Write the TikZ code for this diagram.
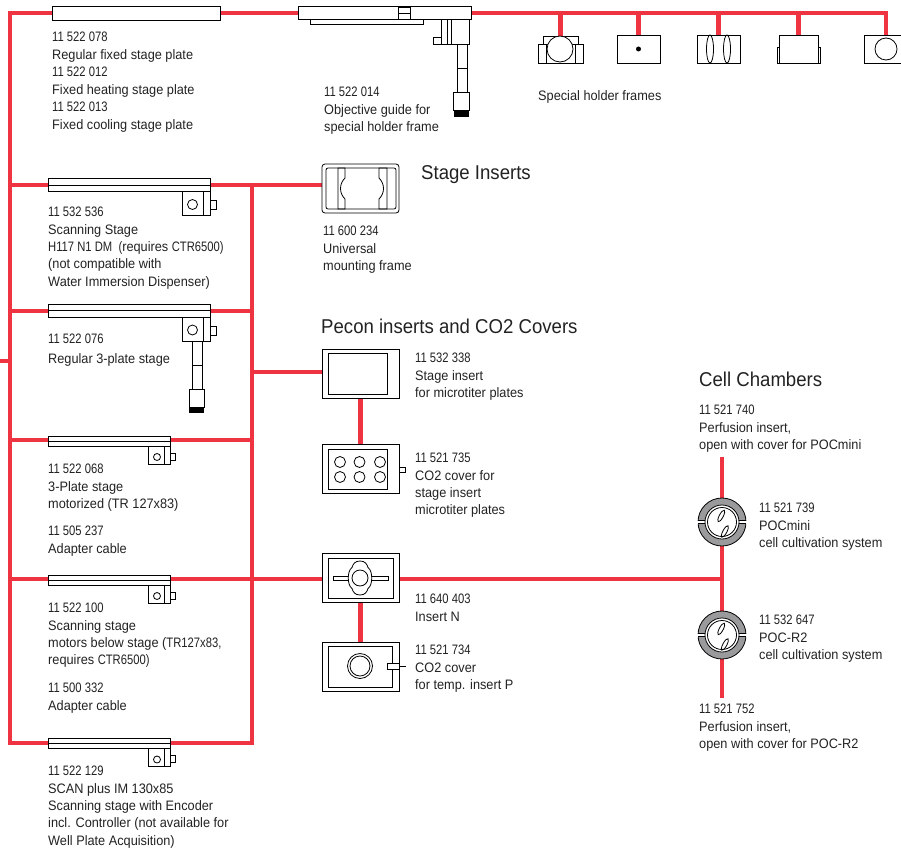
\documentclass[tikz,border=0pt]{standalone}
\usepackage{fontspec}
\setmainfont[FakeStretch=0.93]{Liberation Sans}
\newfontface\partfont[FakeStretch=0.82]{Liberation Sans}
\newcommand{\partno}[1]{{\partfont #1}}
\usetikzlibrary{backgrounds}
\definecolor{linkred}{HTML}{EE3440}
\definecolor{dishgray}{HTML}{9A9A9C}
\definecolor{inktext}{HTML}{222222}

\begin{document}
\begin{tikzpicture}[
        x=1pt, y=-1pt,
        link/.style={draw=linkred, line width=4.3pt},
        part/.style={draw=black, rectangle, fill=white, line width=.8pt, inner sep=0pt, outer sep=0pt},
        longbar/.style={part, minimum width=162pt, minimum height=13pt},
        shortbar/.style={part, minimum width=122pt, minimum height=10pt},
        frame/.style={part, minimum width=77pt, minimum height=49pt},
        holder/.style={part, minimum height=28pt},
        dish/.style={draw=black, circle, fill=dishgray, line width=.8pt, inner sep=0pt, outer sep=0pt, minimum size=48pt},
        thin/.style={draw=black, line width=.8pt},
        lbl/.style={anchor=north west, align=left, inner sep=0pt, yshift=-1pt, text=inktext, font=\fontsize{13.7}{17.4}\selectfont},
        head/.style={anchor=west, inner sep=0pt, text=inktext, font=\fontsize{20}{22}\selectfont}
    ]
    \useasboundingbox (0,0) rectangle (901,851);

    % --- Top row: fixed plate and objective guide ---
    \node[part, minimum width=168pt, minimum height=14pt] (fixedplate) at (136,13) {};
    \node[part, minimum width=173pt, minimum height=13pt] (guidebar) at (384.5,12.5) {};
    \draw[thin] (310,19) -- (310,24) -- (423,24) -- (423,19);
    \draw[thin] (398,7) rectangle (410,19) (398,13) -- (410,13);
    \draw[thin] (441,19) rectangle (469,44) (447,19) -- (447,44) (451,19) -- (451,44);
    \draw[thin] (433,37) rectangle (441,44);
    \draw[thin] (457,44) rectangle (467,92) (457,68) -- (467,68);
    \draw[thin] (453.5,92) rectangle (469,110);
    \fill[black] (453.5,110) rectangle (469,117);

    % --- Top row: special holder frames ---
    \node[part, minimum width=35pt, minimum height=8pt] (holderone) at (560.5,40) {};
    \node[part, minimum width=45pt, minimum height=19pt] (holdersides) at (560.5,53.5) {};
    \draw[thin] (546,44) -- (546,63) (575,44) -- (575,63);
    \node[part, circle, minimum size=26pt] (holderonelens) at (560,49) {};
    \node[holder, minimum width=43pt] (holdertwo) at (638.5,49) {};
    \fill[black] (holdertwo.center) circle[radius=2.5pt];
    \node[holder, minimum width=43pt] (holderthree) at (718.5,49) {};
    \draw[thin] (710,49) ellipse[x radius=3.5pt, y radius=14pt];
    \draw[thin] (727,49) ellipse[x radius=3.5pt, y radius=14pt];
    \node[part, minimum width=43pt, minimum height=16pt] (holderfourback) at (798.5,55) {};
    \node[holder, minimum width=39pt] (holderfour) at (798.5,49) {};
    \node[holder, minimum width=44pt] (holderfive) at (886,49) {};
    \draw[thin] (holderfive.center) circle[radius=11pt];

    % --- Stages ---
    \node[longbar] (scanstage) at (129,185) {};
    \node[longbar] (platestage) at (129,310.5) {};
    \node[shortbar] (motorstage) at (109,441) {};
    \node[shortbar] (belowstage) at (109,580) {};
    \node[shortbar] (encoderstage) at (109,743.5) {};
    \foreach \barname in {scanstage, platestage, motorstage, belowstage, encoderstage}
        \draw[thin] (\barname.west) -- (\barname.east);
    % motor blocks on the long stages
    \foreach \barname in {scanstage, platestage} {
        \draw[thin] ([xshift=-28pt]\barname.south east) rectangle ([xshift=-7pt, yshift=-24pt]\barname.south east);
        \draw[thin] ([xshift=-7pt, yshift=-24pt]\barname.south east) rectangle (\barname.south east);
        \draw[thin] ([xshift=-17.5pt, yshift=-13pt]\barname.south east) circle[radius=5pt];
        \draw[thin] ([yshift=-9pt]\barname.south east) rectangle ([xshift=6pt, yshift=-18pt]\barname.south east);
    }
    % motor blocks on the short stages
    \foreach \barname in {motorstage, belowstage, encoderstage} {
        \draw[thin] ([xshift=-22pt]\barname.south east) rectangle ([xshift=-6pt, yshift=-18pt]\barname.south east);
        \draw[thin] ([xshift=-6pt, yshift=-18pt]\barname.south east) rectangle (\barname.south east);
        \draw[thin] ([xshift=-13pt, yshift=-11pt]\barname.south east) circle[radius=3.5pt];
        \draw[thin] ([yshift=-7pt]\barname.south east) rectangle ([xshift=5pt, yshift=-14pt]\barname.south east);
    }
    % arm below the 3-plate stage
    \draw[thin] (192,341) rectangle (202,389) (192,365) -- (202,365);
    \draw[thin] (189,389) rectangle (204,407);
    \fill[black] (189,407) rectangle (204,413);

    % --- Stage inserts ---
    \node[part, rounded corners=3pt, minimum width=77pt, minimum height=49pt] (mountframe) at (360.5,188.5) {};
    \draw[thin, rounded corners=2pt] (326,168) rectangle (396,209);
    \draw[thin] (338,168) -- (345,168) -- (345,178) .. controls (339,184) and (339,193) .. (345,199) -- (345,209) -- (338,209) -- cycle;
    \draw[thin] (387,168) -- (379,168) -- (379,178) .. controls (385,184) and (385,193) .. (379,199) -- (379,209) -- (387,209) -- cycle;

    % --- Pecon inserts ---
    \node[frame] (plateinsert) at (360.5,373.5) {};
    \node[part, minimum width=59pt, minimum height=41pt] (plateinner) at (357.5,373.5) {};
    \node[frame] (plateco) at (360.5,469) {};
    \node[part, minimum width=59pt, minimum height=40pt] (platecoinner) at (357.5,469) {};
    \draw[thin] (399,467) rectangle (405,472);
    \foreach \wellx in {340, 359.5, 380}
        \foreach \welly in {462, 477}
            \draw[thin] (\wellx,\welly) circle[radius=5.5pt];

    \node[frame] (insertn) at (360.5,578) {};
    \node[part, minimum width=65pt, minimum height=40pt] (insertninner) at (360.5,578) {};
    \draw[thin, fill=white] (333,576) rectangle (388,580);
    \draw[thin, fill=white] (360,561) .. controls (365,561) and (367,564) .. (368,567.5)
        .. controls (373,571) and (373,585) .. (368,588.5)
        .. controls (367,592) and (365,595) .. (360,595)
        .. controls (355,595) and (353,592) .. (352,588.5)
        .. controls (347,585) and (347,571) .. (352,567.5)
        .. controls (353,564) and (355,561) .. (360,561) -- cycle;
    \draw[thin] (360,578) circle[radius=8pt];

    \node[frame] (insertco) at (360.5,666.5) {};
    \node[part, minimum width=64pt, minimum height=41pt] (insertcoinner) at (360,666.5) {};
    \draw[thin] (360,666) circle[radius=12.5pt];
    \draw[thin] (360,666) circle[radius=10pt];
    \node[part, minimum width=12pt, minimum height=6pt] (insertcotab) at (393,666) {};
    \coordinate (insertcoend) at (406,666);
    \draw[thin] (insertcotab.east) -- (insertcoend);

    % --- Cell chambers ---
    \node[dish] (pocmini) at (722,522) {};
    \node[dish] (pocrtwo) at (722,635) {};
    \foreach \dishname in {pocmini, pocrtwo} {
        \fill[white] ([xshift=-25pt, yshift=-1.5pt]\dishname.center) rectangle ([xshift=25pt, yshift=1.5pt]\dishname.center);
        \draw[thin] ([xshift=-24pt, yshift=-1.5pt]\dishname.center) -- ([xshift=24pt, yshift=-1.5pt]\dishname.center);
        \draw[thin] ([xshift=-24pt, yshift=1.5pt]\dishname.center) -- ([xshift=24pt, yshift=1.5pt]\dishname.center);
        \draw[thin, fill=white] (\dishname.center) circle[radius=17pt];
        \draw[thin] (\dishname.center) circle[radius=14.5pt];
        \draw[thin, rotate around={-28:([xshift=-3.5pt, yshift=5pt]\dishname.center)}] ([xshift=-3.5pt, yshift=5pt]\dishname.center) ellipse[x radius=2pt, y radius=6.5pt];
        \draw[thin, rotate around={-28:([xshift=7pt, yshift=-7pt]\dishname.center)}] ([xshift=7pt, yshift=-7pt]\dishname.center) ellipse[x radius=2pt, y radius=6.5pt];
    }

    % --- Junctions ---
    \coordinate (topleft) at (10,13);
    \coordinate (topright) at (886,13);
    \coordinate (leftend) at (10,743);
    \coordinate (feed) at (0,361);
    \coordinate (feedleft) at (10,361);
    \coordinate (dropone) at (560.5,13);
    \coordinate (droptwo) at (638.5,13);
    \coordinate (dropthree) at (718.5,13);
    \coordinate (dropfour) at (798.5,13);
    \coordinate (riserscan) at (252,185);
    \coordinate (riserplate) at (252,311);
    \coordinate (riserpecon) at (252,372);
    \coordinate (risermotor) at (252,440);
    \coordinate (riserbelow) at (252,579);
    \coordinate (riserend) at (252,743);
    \coordinate (leftscan) at (10,185);
    \coordinate (leftplate) at (10,311);
    \coordinate (leftmotor) at (10,440);
    \coordinate (leftbelow) at (10,579);
    \coordinate (celljoin) at (722,579);
    \coordinate (celltop) at (722,457);
    \coordinate (cellbottom) at (722,698);

    % --- Edges ---
    \begin{scope}[on background layer]
    \draw[link] ([xshift=-2pt]topleft) -- (topleft -| fixedplate.west);
    \draw[link] (topleft) -- ([yshift=2pt]leftend);
    \draw[link] (feed) -- (feedleft);
    \draw[link] (topleft -| fixedplate.east) -- (topleft -| guidebar.west);
    \draw[link] (topleft -| guidebar.east) -- ([xshift=2pt]topright);
    \draw[link] (topright) -- (holderfive.north);
    \draw[link] (dropone) -- (holderone.north);
    \draw[link] (droptwo) -- (holdertwo.north);
    \draw[link] (dropthree) -- (holderthree.north);
    \draw[link] (dropfour) -- (holderfour.north);

    \draw[link] (leftscan) -- (scanstage.west);
    \draw[link] (scanstage.east) -- (scanstage.east -| mountframe.west);
    \draw[link] (leftplate) -- (leftplate -| platestage.west);
    \draw[link] (riserplate -| platestage.east) -- (riserplate);
    \draw[link] (riserpecon) -- (riserpecon -| plateinsert.west);
    \draw[link] (leftmotor) -- (leftmotor -| motorstage.west);
    \draw[link] (risermotor -| motorstage.east) -- (risermotor);
    \draw[link] (leftbelow) -- (leftbelow -| belowstage.west);
    \draw[link] (riserbelow -| belowstage.east) -- (riserbelow -| insertn.west);
    \draw[link] ([xshift=-2pt]leftend) -- (leftend -| encoderstage.west);
    \draw[link] (riserend -| encoderstage.east) -- ([xshift=2pt]riserend);
    \draw[link] (riserscan) -- (riserend);

    \draw[link] (plateinsert.south) -- (plateco.north);
    \draw[link] (insertn.south) -- (insertco.north);
    \draw[link] (celljoin -| insertn.east) -- (celljoin);
    \draw[link] (celltop) -- (cellbottom);
    \end{scope}

    % --- Labels ---
    \node[lbl] (fixedtext) at (52,31) {\partno{11 522 078}\\Regular fixed stage plate};
    \node[lbl] (heatingtext) at (52,66) {\partno{11 522 012}\\Fixed heating stage plate};
    \node[lbl] (coolingtext) at (52,101) {\partno{11 522 013}\\Fixed cooling stage plate};
    \node[lbl] (guidetext) at (324,86) {\partno{11 522 014}\\Objective guide for\\special holder frame};
    \node[lbl] (holdertext) at (538,89) {Special holder frames};
    \node[head] (insertshead) at (421,175) {Stage Inserts};
    \node[lbl] (scantext) at (48,206) {\partno{11 532 536}\\Scanning Stage\\\partno{H117 N1 DM\ \ (}requires \partno{CTR6500)}\\(not compatible with\\Water Immersion Dispenser)};
    \node[lbl] (platetext) at (48,333) {\partno{11 522 076}};
    \node[lbl] (platenametext) at (48,352) {Regular 3-plate stage};
    \node[lbl] (mounttext) at (323,225) {\partno{11 600 234}\\Universal\\mounting frame};
    \node[head] (peconhead) at (321,326) {Pecon inserts and CO2 Covers};
    \node[lbl] (platebrtext) at (415,352) {\partno{11 532 338}\\Stage insert\\for microtiter plates};
    \node[lbl] (platecotext) at (415,452) {\partno{11 521 735}\\CO2 cover for\\stage insert\\microtiter plates};
    \node[head] (cellhead) at (699,379) {Cell Chambers};
    \node[lbl] (perfminitext) at (699,404) {\partno{11 521 740}\\Perfusion insert,\\open with cover for POCmini};
    \node[lbl] (pocminitext) at (759,502) {\partno{11 521 739}\\POCmini\\cell cultivation system};
    \node[lbl] (motortext) at (48,463) {\partno{11 522 068}\\3-Plate stage\\motorized (TR 127x83)};
    \node[lbl] (motorcabletext) at (48,525) {\partno{11 505 237}\\Adapter cable};
    \node[lbl] (belowtext) at (48,602) {\partno{11 522 100}\\Scanning stage\\motors below stage (\partno{TR127x83,}\\requires \partno{CTR6500)}};
    \node[lbl] (belowcabletext) at (48,682) {\partno{11 500 332}\\Adapter cable};
    \node[lbl] (insertntext) at (415,593) {\partno{11 640 403}\\Insert N};
    \node[lbl] (insertcotext) at (415,644) {\partno{11 521 734}\\CO2 cover\\for temp. insert P};
    \node[lbl] (pocrtext) at (759,614) {\partno{11 532 647}\\POC-R2\\cell cultivation system};
    \node[lbl] (perfrtext) at (699,703) {\partno{11 521 752}\\Perfusion insert,\\open with cover for POC-R2};
    \node[lbl] (encodertext) at (48,765) {\partno{11 522 129}\\SCAN plus IM 130x85\\Scanning stage with Encoder\\incl. Controller (not available for\\Well Plate Acquisition)};
\end{tikzpicture}
\end{document}
